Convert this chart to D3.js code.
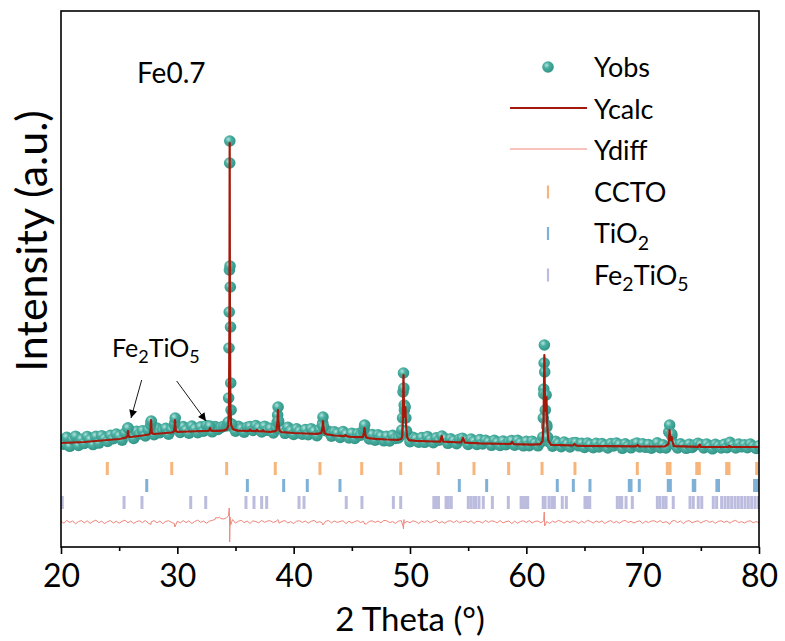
<!DOCTYPE html>
<html><head><meta charset="utf-8">
<script src="https://cdn.jsdelivr.net/npm/d3@7"></script>
<style>
html,body{margin:0;padding:0;background:#fff;}
svg{display:block;font-family:Lato,"Open Sans",sans-serif;}
</style></head><body>
<svg id="chart" width="785" height="641"></svg>
<script>
// ---- axis ticks ----
const xTicks = [20, 30, 40, 50, 60, 70, 80];
const xMinorTicks = [25, 35, 45, 55, 65, 75];

// ---- observed pattern on a 0.25 deg grid starting at 20 deg ----
const gridStart = 20, gridStep = 0.25;
const obsValues = [
  2850,2645,2980,2535, 2885,3040,2575,2890, 2680,3028,2875,2623, 3030,2698,3065,2913,
  2780,3088,2915,3143, 3050,2845,3200,3450, 3150,2930,3290,3153, 3315,3058,3360,3750,
  3120,3448,3215,3323, 3430,3138,3385,3600, 3475,3225,3525,3340, 3195,3545,3410,3220,
  3510,3290,3570,3520, 3260,3520,3380,3480, 3540,3560,3650,3520, 3290,3535,3420,3245,
  3490,3520,3330,3570, 3465,3250,3540,3335, 3430,3200,3460,3600, 3405,3185,3485,3305,
  3130,3410,3290,3140, 3375,3115,3415,3285, 3070,3370,3700,3320, 3290,3040,3255,3185,
  2980,3270,3150,2950, 3190,2925,3155,3090, 3250,3130,2900,3125, 2840,3110,3040,2810,
  3035,2800,3085,2928, 2950,3110,4600,3150, 2765,2990,2915,2740, 2970,2735,3020,2865,
  2715,2955,2840,3050, 2920,2685,2910,2815, 2665,2890,2940,2830, 2630,2900,2780,2625,
  2870,2655,2835,2760, 2585,2830,2730,2575, 2800,2620,2760,2820, 2590,2830,2700,2560,
  2785,2570,2790,2685, 2560,2750,5400,3600, 2740,2545,2790,2675, 2520,2745,2645,2508,
  2715,2720,2560,2685, 2480,2700,2620,2463, 2685,2507,2667,2568, 2450,2671,2552,2693,
  2615,2436,2657,2538, 2460,2640,2700,2500, 2665,2485,2625,2445, 2587,2708,2469,2610,
  2455,3250,3050,2630, 2455,2655,2555,2435, 2640,2480,2600,2680, 2620,2450,2650,2510,
  2410,2630,2550,2450, 2630,2470,2730,2570, 2450,2650,2510,2610, 2470,2650,2530,2430,
  2560
];
// observed points on the reflections [2theta, intensity]
const obsPeakPoints = [
  [25.76,3450],[27.72,3600],[27.76,3800],[29.78,3700],[29.82,3950],[32.80,3550],
  [34.30,3600],[34.38,3750],[34.41,4950],[34.44,7450],[34.46,9250],[34.48,11350],
  [34.50,16700],[34.51,17800],[34.53,11550],[34.55,10500],[34.57,8500],[34.59,5700],
  [34.62,4350],[34.68,3650],
  [38.58,3750],[38.62,4100],[38.66,4500],[38.71,3800],
  [42.47,3600],[42.52,4000],[42.58,3500],
  [46.05,3400],[46.10,3600],
  [49.30,3350],[49.36,3950],[49.40,5250],[49.44,6200],[49.47,5450],[49.52,4350],
  [49.58,4500],[49.64,3950],[49.70,3300],
  [61.42,3000],[61.46,3950],[61.50,5150],[61.53,6700],[61.55,7600],[61.58,6250],
  [61.63,4350],[61.70,5100],[61.76,3500],[61.82,3000],
  [72.28,3250],[72.32,3600],[72.50,3150]
];

// ---- calculated profile [2theta, intensity] ----
const calcPoints = [
  [20,2700],[22,2750],[24,2850],[25,2900],
  [25.5,2960],[25.66,3000],[25.72,3100],[25.76,3300],[25.80,3100],[25.86,3010],[26.0,3000],
  [27.0,3075],[27.55,3125],[27.66,3180],[27.71,3450],[27.74,3850],[27.77,3450],[27.82,3190],[27.95,3150],
  [28.5,3175],[29.5,3225],[29.62,3240],[29.72,3290],[29.77,3500],[29.80,3850],[29.83,3500],[29.88,3300],[30.0,3255],
  [31.0,3275],[32.65,3305],[32.76,3350],[32.81,3450],[32.86,3350],[32.97,3305],
  [33.5,3310],[34.0,3330],[34.25,3380],[34.38,3550],[34.44,4500],[34.48,9000],[34.50,17700],
  [34.52,9000],[34.56,4600],[34.62,3600],[34.8,3380],[35.2,3320],
  [36.15,3300],[36.25,3380],[36.35,3300],[36.75,3290],[36.85,3360],[36.95,3290],
  [37.27,3280],[37.37,3340],[37.47,3275],[38.0,3260],[38.4,3290],
  [38.52,3330],[38.60,3700],[38.65,4350],[38.70,3700],[38.78,3320],[38.95,3245],
  [40.0,3200],[41.0,3175],[42.0,3160],
  [42.38,3200],[42.47,3450],[42.52,3800],[42.57,3450],[42.66,3190],[42.85,3135],
  [43.5,3075],[44.3,3040],[44.45,3090],[44.6,3035],[45.0,3000],
  [45.95,2990],[46.04,3200],[46.09,3450],[46.14,3200],[46.23,2980],[46.4,2945],
  [47.0,2910],[48.0,2875],[49.0,2860],[49.25,2900],
  [49.34,3050],[49.39,3900],[49.44,6100],[49.48,4300],[49.53,4000],[49.60,4500],[49.66,3600],[49.75,3000],[49.9,2840],
  [50.5,2810],[52.0,2775],[52.6,2770],[52.73,3050],[52.86,2765],
  [54.4,2725],[54.56,2950],[54.72,2720],[56.0,2680],[58.65,2650],[58.77,2750],[58.9,2645],
  [60.5,2620],[61.2,2640],
  [61.40,2800],[61.48,3800],[61.55,7100],[61.60,4800],[61.65,4300],[61.73,5000],[61.78,3800],[61.88,2850],[62.1,2610],
  [63.0,2590],[64.0,2575],[64.15,2650],[64.3,2570],[65.0,2550],[67.0,2540],
  [69.4,2530],[69.55,2600],[69.7,2530],[71.9,2525],
  [72.22,2650],[72.27,2950],[72.31,3350],[72.36,2950],[72.43,2850],[72.49,3000],[72.55,2800],[72.68,2545],
  [74.8,2510],[74.9,2620],[75.0,2505],[77.35,2500],[77.45,2560],[77.55,2500],[80,2500]
];

// ---- difference curve (obs - calc) on the same grid, plus reflection residuals ----
const diffValues = [
  30,-60,80,-20, 50,-90,20,70, -40,60,-70,30, 90,-30,40,-80, 20,70,-50,40,
  -60,30,90,-40, 50,-70,20,60, -30,80,-60,10, 70,-40,50,-90, 30,60,-20,-80,
  40,-50,70,-30, 60,-80,30,90, -20,50,-60,40, 80,130,200,170, 150,220,-100,120,
  -60,40,80,-30, 50,-70,60,20, -40,80,-20,50, 60,-30,40,-60, 30,70,-50,20,
  -80,40,60,-20, 50,-60,30,80, -30,20,-70,40, 70,-40,50,-20, 30,60,-80,40,
  -50,20,70,-30, 40,-90,30,60, -20,50,-40,80, 60,-30,20,-70, 40,70,-60,30,
  -40,60,20,-80, 50,-20,70,-40, 30,80,-50,20, -60,40,60,-30, 70,-40,20,50,
  -30,60,-70,40, 20,-50,80,-20, 60,30,-40,70, -50,20,50,-80, 40,-60,30,60,
  -20,70,-50,30, 50,-40,60,20, -70,40,-20,80, 30,-60,50,-30, 60,20,-70,40,
  -40,80,30,-50, 50,-20,60,-80, 20,70,-40,30, -60,40,80,-20, 30,-50,20,60,
  -70,40,-30,50, 60,-20,70,-40, 20,-60,40,80, -30,50,-80,30, 70,-40,20,60,
  -50,30,80,-20, 40,-70,30,60, -20,50,-60,40, 80,-30,20,-50, 30,60,-40,20,
  -30
];
const diffPeakPoints = [
  [27.74,-120],[29.79,-250],[33.30,220],[33.60,250],[34.40,300],[34.46,700],[34.50,-1000],
  [34.53,250],[34.58,-150],[38.65,120],[42.50,-150],[46.10,-100],
  [49.40,-200],[49.44,-350],[49.48,120],[61.50,200],[61.54,500],[61.58,-200],[72.31,-120]
];
const diffOffset = -1250;

// ---- reflection positions of each phase (2theta) ----
const ticksCCTO = [23.98,29.52,34.24,38.42,42.26,45.85,49.20,52.43,55.50,58.48,61.35,64.18,
  69.54,72.12,72.35,74.65,74.87,77.22,77.42,79.80];
const ticksTiO2 = [27.37,36.02,39.14,41.17,43.98,54.24,56.59,62.66,64.04,65.47,68.85,69.00,69.71,
  72.20,72.38,74.35,74.48,76.38,76.52,79.62,79.86];
const ticksFe2TiO5 = [20.11,25.42,26.96,31.15,32.44,35.90,36.59,37.25,37.68,40.46,40.89,44.52,45.87,
  48.57,49.20,52.05,52.20,52.45,53.10,53.30,53.55,55.01,55.25,55.50,55.65,55.93,56.30,57.08,58.45,
  59.55,59.75,59.97,60.12,61.45,61.61,61.95,62.20,62.41,63.09,63.44,65.04,65.25,65.45,
  67.82,68.05,68.20,68.57,69.11,71.26,71.49,71.78,72.01,72.63,74.07,74.35,74.78,75.08,
  76.07,76.36,76.79,77.08,77.36,77.65,77.94,78.22,78.51,78.80,79.08,79.37,79.66,79.94];

const phaseRows = [
  {name: "CCTO", ticks: ticksCCTO, color: "#f8b57a"},
  {name: "TiO2", ticks: ticksTiO2, color: "#7fb0d5"},
  {name: "Fe2TiO5", ticks: ticksFe2TiO5, color: "#bcbcdf"}
];

// ---- layout ----
const M = {left: 61, right: 759, top: 11, bottom: 547};
const svg = d3.select("#chart");

const x = d3.scaleLinear().domain([20, 80]).range([M.left, M.right]);
const y = d3.scaleLinear().domain([-2500, 24300]).range([M.bottom, M.top]);

const defs = svg.append("defs");
const grad = defs.append("radialGradient").attr("id", "ball")
  .attr("cx", "38%").attr("cy", "35%").attr("r", "70%");
grad.append("stop").attr("offset", "0%").attr("stop-color", "#b4e4dd");
grad.append("stop").attr("offset", "38%").attr("stop-color", "#48aea0");
grad.append("stop").attr("offset", "100%").attr("stop-color", "#2f9184");

defs.append("marker").attr("id", "arrow").attr("viewBox", "0 0 10 10")
  .attr("refX", 10).attr("refY", 5).attr("markerWidth", 11).attr("markerHeight", 8)
  .attr("markerUnits", "userSpaceOnUse").attr("orient", "auto")
  .append("path").attr("d", "M0,0 L10,5 L0,10 z").attr("fill", "#000");

const clip = defs.append("clipPath").attr("id", "plotclip");
clip.append("rect").attr("x", M.left).attr("y", M.top)
  .attr("width", M.right - M.left).attr("height", M.bottom - M.top);

const plot = svg.append("g").attr("clip-path", "url(#plotclip)");

// observed points
const obsData = obsValues.map((v, i) => [gridStart + i * gridStep, v]).concat(obsPeakPoints);
plot.append("g").selectAll("circle").data(obsData).join("circle")
  .attr("cx", d => x(d[0])).attr("cy", d => y(d[1])).attr("r", 5.8)
  .attr("fill", "url(#ball)");

// calculated profile
const line = d3.line().x(d => x(d[0])).y(d => y(d[1]));
plot.append("path").datum(calcPoints).attr("d", line)
  .attr("fill", "none").attr("stroke", "#a3190b").attr("stroke-width", 2.2)
  .attr("stroke-linejoin", "round");

// difference curve
const diffData = diffValues.map((v, i) => [gridStart + i * gridStep, v])
  .concat(diffPeakPoints).sort((a, b) => a[0] - b[0]);
plot.append("path").datum(diffData)
  .attr("d", d3.line().x(d => x(d[0])).y(d => y(d[1] + diffOffset)))
  .attr("fill", "none").attr("stroke", "#f0857a").attr("stroke-width", 1);

// Bragg reflection markers
const rowTop = [462, 479, 496], rowH = 13;
phaseRows.forEach((row, k) => {
  plot.append("g").selectAll("line").data(row.ticks).join("line")
    .attr("x1", d => x(d)).attr("x2", d => x(d))
    .attr("y1", rowTop[k]).attr("y2", rowTop[k] + rowH)
    .attr("stroke", row.color).attr("stroke-width", 3);
});

// frame
svg.append("rect").attr("x", M.left).attr("y", M.top)
  .attr("width", M.right - M.left).attr("height", M.bottom - M.top)
  .attr("fill", "none").attr("stroke", "#000").attr("stroke-width", 1.6);

// x axis
const xAxis = svg.append("g").attr("transform", `translate(0,${M.bottom})`)
  .call(d3.axisBottom(x).tickValues(xTicks).tickSize(7).tickPadding(10).tickFormat(d3.format("d")));
xAxis.select(".domain").remove();
xAxis.selectAll("line").attr("stroke", "#000").attr("stroke-width", 1.6);
xAxis.selectAll("text").attr("font-size", 32).attr("fill", "#000")
  .attr("font-family", "Lato, sans-serif");
const xMinor = svg.append("g").attr("transform", `translate(0,${M.bottom})`)
  .call(d3.axisBottom(x).tickValues(xMinorTicks).tickSize(4).tickFormat(""));
xMinor.select(".domain").remove();
xMinor.selectAll("line").attr("stroke", "#000").attr("stroke-width", 1.6);

// axis titles
svg.append("text").attr("x", (M.left + M.right) / 2).attr("y", 631)
  .attr("text-anchor", "middle").attr("font-size", 33).text("2 Theta (°)");
svg.append("text").attr("transform", "translate(47,241) rotate(-90)")
  .attr("text-anchor", "middle").attr("font-size", 43).text("Intensity (a.u.)");

// sample label
svg.append("text").attr("x", 137).attr("y", 83).attr("font-size", 28).text("Fe0.7");

// helper for chemical formulas with subscripts
function formula(sel, parts, size) {
  parts.forEach(p => {
    if (p.sub) {
      sel.append("tspan").attr("font-size", size * 0.72).attr("dy", size * 0.25).text(p.t);
    } else {
      sel.append("tspan").attr("font-size", size).attr("dy", p.after ? -size * 0.25 : 0).text(p.t);
    }
  });
}

// annotation of secondary-phase reflections
const ann = svg.append("text").attr("x", 112).attr("y", 357);
formula(ann, [{t: "Fe"}, {t: "2", sub: true}, {t: "TiO", after: true}, {t: "5", sub: true}], 25);
svg.append("line").attr("x1", 141.7).attr("y1", 380).attr("x2", 131).attr("y2", 418)
  .attr("stroke", "#000").attr("stroke-width", 0.9).attr("marker-end", "url(#arrow)");
svg.append("line").attr("x1", 176.7).attr("y1", 381).attr("x2", 206).attr("y2", 421)
  .attr("stroke", "#000").attr("stroke-width", 0.9).attr("marker-end", "url(#arrow)");

// legend
const legX = 594, legBase = [77, 118.5, 160, 201.5, 243, 284.5];
const leg = svg.append("g");
leg.append("circle").attr("cx", 548).attr("cy", 67).attr("r", 5.8).attr("fill", "url(#ball)");
leg.append("line").attr("x1", 510).attr("x2", 587).attr("y1", 108).attr("y2", 108)
  .attr("stroke", "#a3190b").attr("stroke-width", 2.2);
leg.append("line").attr("x1", 510).attr("x2", 587).attr("y1", 149).attr("y2", 149)
  .attr("stroke", "#f0857a").attr("stroke-width", 1);
phaseRows.forEach((row, k) => {
  const cy = legBase[3 + k] - 9;
  leg.append("line").attr("x1", 548).attr("x2", 548).attr("y1", cy - 7).attr("y2", cy + 6)
    .attr("stroke", row.color).attr("stroke-width", 2.2);
});
const legFont = 27;
["Yobs", "Ycalc", "Ydiff", "CCTO"].forEach((t, i) => {
  leg.append("text").attr("x", legX).attr("y", legBase[i]).attr("font-size", legFont).text(t);
});
formula(leg.append("text").attr("x", legX).attr("y", legBase[4]),
  [{t: "TiO"}, {t: "2", sub: true}], legFont);
formula(leg.append("text").attr("x", legX).attr("y", legBase[5]),
  [{t: "Fe"}, {t: "2", sub: true}, {t: "TiO", after: true}, {t: "5", sub: true}], legFont);
</script>
</body></html>
